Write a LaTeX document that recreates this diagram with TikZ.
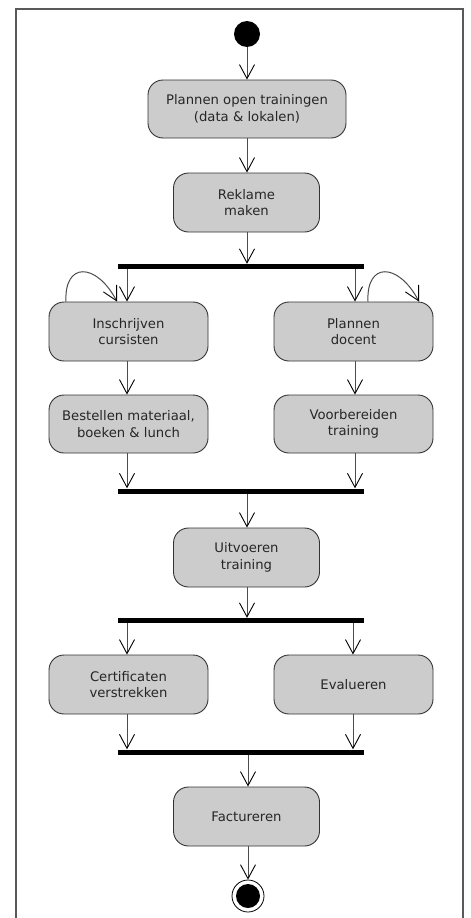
\documentclass[tikz,border=0pt]{standalone}
\usepackage{fontspec}
\setmainfont{DejaVu Sans}
\usetikzlibrary{arrows.meta}

\tikzset{
  action/.style={draw=black!80, fill=black!20, line width=0.9pt, rounded corners=15pt,
    minimum width=159pt, minimum height=59pt, inner sep=0pt, align=center,
    text=black!85, font=\fontsize{13.2}{16.7}\selectfont},
  midaction/.style={action, minimum width=146pt},
  syncbar/.style={fill=black, draw=none, minimum width=246pt, minimum height=5pt, inner sep=0pt},
  flow/.style={draw=black!70, line width=1pt, -{Straight Barb[length=14pt,width=15pt,line width=0.9pt,black]}},
  frame/.style={draw=black!65, line width=1.2pt},
}

\begin{document}
\begin{tikzpicture}[x=1pt,y=-1pt]
\useasboundingbox (0,0) rectangle (471,918);

% outer frame, open at the bottom
\draw[frame] (16,918) -- (16,9) -- (463,9) -- (463,918);

% start and end points
\node[circle, fill=black, minimum size=26pt, inner sep=0pt] (start) at (247,34) {};
\node[circle, draw=black, line width=0.8pt, fill=white, minimum size=32pt, inner sep=0pt] (stop) at (248,896) {};
\node[circle, fill=black, minimum size=24pt, inner sep=0pt] (stopdot) at (248,896) {};

% activities
\node[action, minimum width=198pt, minimum height=58pt] (plan) at (247,109) {Plannen open trainingen\\(data \& lokalen)};
\node[midaction] (reklame) at (246.5,202.5) {Reklame\\maken};
\node[action] (inschr) at (128.5,331.5) {Inschrijven\\cursisten};
\node[action] (docent) at (353.5,331.5) {Plannen\\docent};
\node[action, minimum height=58pt] (bestel) at (128.5,424) {Bestellen materiaal,\\boeken \& lunch};
\node[action, minimum height=58pt] (voorb) at (353.5,424) {Voorbereiden\\training};
\node[midaction] (uitvoer) at (246.5,557.5) {Uitvoeren\\training};
\node[action] (certif) at (128.5,684.5) {Certificaten\\verstrekken};
\node[action] (evalu) at (353.5,684.5) {Evalueren};
\node[midaction] (factuur) at (246.5,816.5) {Factureren};

% fork / join bars
\node[syncbar] (fork1) at (241,266.5) {};
\node[syncbar] (join1) at (241,491) {};
\node[syncbar] (fork2) at (241,620.5) {};
\node[syncbar] (join2) at (241,752) {};

% flows
\draw[flow] (start) -- (plan.north -| start);
\draw[flow] (plan.south -| start) -- (reklame.north -| start);
\draw[flow] (reklame.south -| start) -- (fork1.north -| start);

\draw[flow] (fork1.south -| 127,0) -- (inschr.north -| 127,0);
\draw[flow] (fork1.south -| 355,0) -- (docent.north -| 355,0);
\draw[flow] ([xshift=-62.5pt]inschr.north) .. controls (64,262) and (96,262) .. ([xshift=-11.5pt]inschr.north);
\draw[flow] ([xshift=14.5pt]docent.north) .. controls (366,262) and (398,262) .. ([xshift=65.5pt]docent.north);

\draw[flow] (inschr.south -| 127,0) -- (bestel.north -| 127,0);
\draw[flow] (docent.south -| 355,0) -- (voorb.north -| 355,0);
\draw[flow] (bestel.south -| 127,0) -- (join1.north -| 127,0);
\draw[flow] (voorb.south -| 355,0) -- (join1.north -| 355,0);
\draw[flow] (join1.south -| start) -- (uitvoer.north -| start);
\draw[flow] (uitvoer.south -| start) -- (fork2.north -| start);

\draw[flow] (fork2.south -| 127,0) -- (certif.north -| 127,0);
\draw[flow] (fork2.south -| 353,0) -- (evalu.north -| 353,0);
\draw[flow] (certif.south -| 127,0) -- (join2.north -| 127,0);
\draw[flow] (evalu.south -| 353,0) -- (join2.north -| 353,0);
\draw[flow] (join2.south -| 248,0) -- (factuur.north -| 248,0);
\draw[flow] (factuur.south -| 248,0) -- (stop.north);
\end{tikzpicture}
\end{document}
